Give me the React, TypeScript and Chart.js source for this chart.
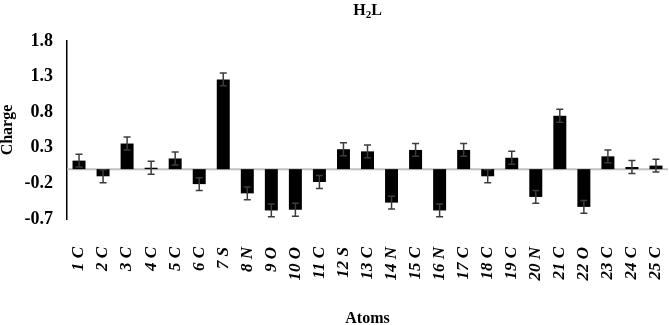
import React, { useEffect, useRef } from "react";
import { Chart, registerables } from "chart.js";

Chart.register(...registerables);

const atoms = ["1 C", "2 C", "3 C", "4 C", "5 C", "6 C", "7 S", "8 N", "9 O", "10 O", "11 C", "12 S", "13 C", "14 N", "15 C", "16 N", "17 C", "18 C", "19 C", "20 N", "21 C", "22 O", "23 C", "24 C", "25 C"];
const charges = [0.12, -0.1, 0.36, 0.02, 0.15, -0.21, 1.26, -0.34, -0.58, -0.57, -0.18, 0.28, 0.25, -0.47, 0.27, -0.58, 0.27, -0.1, 0.16, -0.39, 0.75, -0.53, 0.18, 0.03, 0.05];
const errors = [0.09, 0.09, 0.09, 0.09, 0.09, 0.09, 0.09, 0.09, 0.09, 0.09, 0.09, 0.09, 0.09, 0.09, 0.09, 0.09, 0.09, 0.09, 0.09, 0.09, 0.09, 0.09, 0.09, 0.09, 0.09];
const yTicks = [-0.7, -0.2, 0.3, 0.8, 1.3, 1.8];

const SERIF = '"Liberation Serif", "Times New Roman", serif';

const zeroLinePlugin = {
  id: "zeroLine",
  beforeDatasetsDraw(chart: any) {
    const { ctx, chartArea, scales } = chart;
    const y = scales.y.getPixelForValue(0);
    ctx.save();
    ctx.strokeStyle = "#c0c0c0";
    ctx.lineWidth = 2;
    ctx.beginPath();
    ctx.moveTo(chartArea.left, y);
    ctx.lineTo(chartArea.right, y);
    ctx.stroke();
    ctx.restore();
  },
};

const errorBarPlugin = {
  id: "errorBars",
  afterDatasetsDraw(chart: any) {
    const { ctx, scales } = chart;
    ctx.save();
    ctx.strokeStyle = "#3c3c3c";
    ctx.lineWidth = 1.5;
    charges.forEach((v, i) => {
      const x = scales.x.getPixelForValue(i);
      const yTop = scales.y.getPixelForValue(v + errors[i]);
      const yBot = scales.y.getPixelForValue(v - errors[i]);
      const cap = 3.5;
      ctx.beginPath();
      ctx.moveTo(x, yTop);
      ctx.lineTo(x, yBot);
      ctx.moveTo(x - cap, yTop);
      ctx.lineTo(x + cap, yTop);
      ctx.moveTo(x - cap, yBot);
      ctx.lineTo(x + cap, yBot);
      ctx.stroke();
    });
    ctx.restore();
  },
};

const titlePlugin = {
  id: "subTitle",
  afterDraw(chart: any) {
    const { ctx, chartArea } = chart;
    const cx = (chartArea.left + chartArea.right) / 2;
    const y = 11;
    ctx.save();
    ctx.fillStyle = "#000";
    ctx.textBaseline = "middle";
    ctx.textAlign = "left";
    const big = `bold 16px ${SERIF}`;
    const small = `bold 11px ${SERIF}`;
    ctx.font = big;
    const wH = ctx.measureText("H").width;
    const wL = ctx.measureText("L").width;
    ctx.font = small;
    const w2 = ctx.measureText("2").width;
    let x = cx - (wH + w2 + wL) / 2;
    ctx.font = big;
    ctx.fillText("H", x, y);
    x += wH;
    ctx.font = small;
    ctx.fillText("2", x, y + 4);
    x += w2;
    ctx.font = big;
    ctx.fillText("L", x, y);
    ctx.restore();
  },
};

export default function App() {
  const ref = useRef<HTMLCanvasElement | null>(null);

  useEffect(() => {
    document.body.style.margin = "0";
    const canvas = ref.current;
    if (!canvas) return;
    const chart = new Chart(canvas, {
      type: "bar",
      data: {
        labels: atoms,
        datasets: [
          {
            data: charges,
            backgroundColor: "#000000",
            borderWidth: 0,
            barPercentage: 0.54,
            categoryPercentage: 1,
          },
        ],
      },
      options: {
        animation: false,
        responsive: false,
        devicePixelRatio: 1,
        layout: { padding: { top: 41, right: 1, left: 0, bottom: 0 } },
        plugins: {
          legend: { display: false },
          tooltip: { enabled: false },
          title: { display: false },
        },
        scales: {
          x: {
            grid: { display: false, drawTicks: false },
            border: { display: false },
            ticks: {
              autoSkip: false,
              minRotation: 90,
              maxRotation: 90,
              padding: 28,
              color: "#000",
              font: { family: SERIF, size: 17, weight: "bold", style: "italic" },
            },
            title: {
              display: true,
              text: "Atoms",
              color: "#000",
              font: { family: SERIF, size: 16, weight: "bold", lineHeight: 0.8 },
              padding: 0,
            },
            afterFit(scale: any) {
              scale.height = 106;
              scale.paddingLeft = 0;
              scale.paddingRight = 0;
            },
          },
          y: {
            min: -0.7,
            max: 1.8,
            grid: { display: false, drawTicks: false },
            border: { display: true, color: "#000", width: 1.5 },
            afterBuildTicks(scale: any) {
              scale.ticks = yTicks.map((v) => ({ value: v }));
            },
            ticks: {
              padding: 14,
              color: "#000",
              font: { family: SERIF, size: 18, weight: "bold" },
              callback: (v: any) => Number(v).toFixed(1),
            },
            title: {
              display: true,
              text: "Charge",
              color: "#000",
              font: { family: SERIF, size: 16, weight: "bold", lineHeight: 1 },
              padding: 0,
            },
            afterFit(scale: any) {
              scale.width = 67;
            },
          },
        },
      },
      plugins: [zeroLinePlugin, errorBarPlugin, titlePlugin],
    });
    return () => chart.destroy();
  }, []);

  return <canvas ref={ref} width={669} height={325} style={{ display: "block" }} />;
}
